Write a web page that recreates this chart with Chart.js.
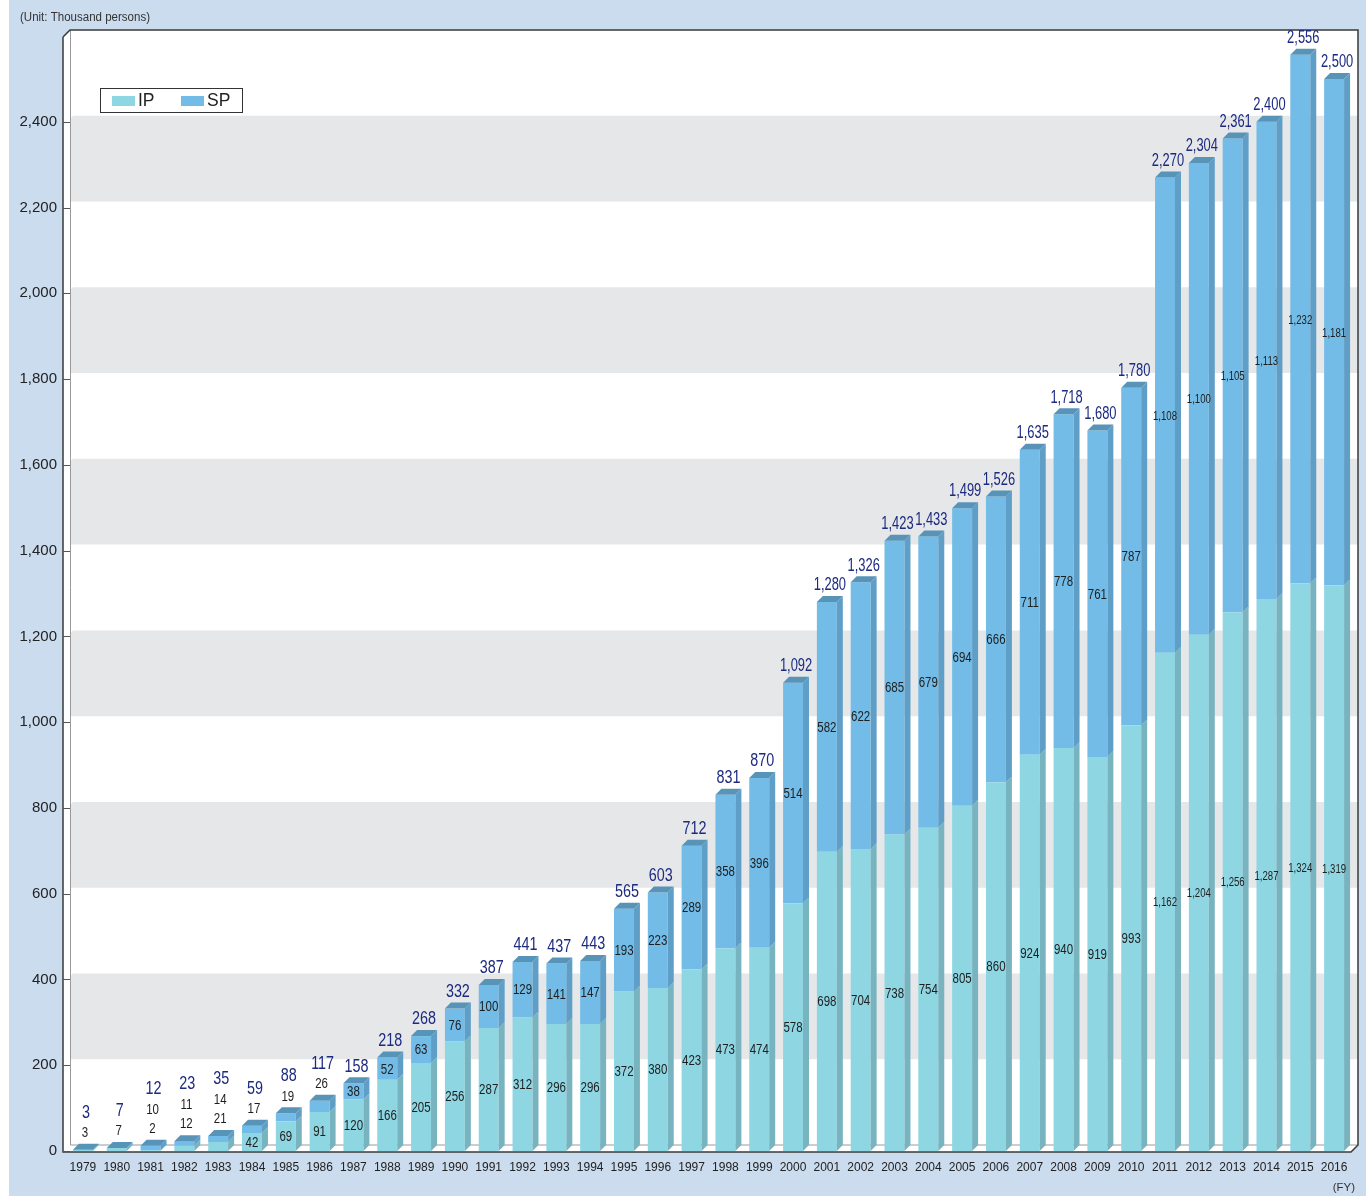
<!DOCTYPE html>
<html><head><meta charset="utf-8">
<script src="https://cdn.jsdelivr.net/npm/chart.js@4.4.1/dist/chart.umd.min.js"></script>
<style>html,body{margin:0;padding:0;background:#fff}#wrap{width:1366px;height:1196px}</style>
</head><body><div id="wrap"><canvas id="c" width="1366" height="1196"></canvas></div>
<script>
// ---- data ----
const years = ['1979','1980','1981','1982','1983','1984','1985','1986','1987','1988','1989','1990','1991','1992','1993','1994','1995','1996','1997','1998','1999','2000','2001','2002','2003','2004','2005','2006','2007','2008','2009','2010','2011','2012','2013','2014','2015','2016'];
const ipValues = [3,7,2,12,21,42,69,91,120,166,205,256,287,312,296,296,372,380,423,473,474,578,698,704,738,754,805,860,924,940,919,993,1162,1204,1256,1287,1324,1319];
const spValues = [0,0,10,11,14,17,19,26,38,52,63,76,100,129,141,147,193,223,289,358,396,514,582,622,685,679,694,666,711,778,761,787,1108,1100,1105,1113,1232,1181];
const totalValues = [3,7,12,23,35,59,88,117,158,218,268,332,387,441,437,443,565,603,712,831,870,1092,1280,1326,1423,1433,1499,1526,1635,1718,1680,1780,2270,2304,2361,2400,2556,2500];
const seriesNames = ['IP','SP'];
const yTickValues = [0,200,400,600,800,1000,1200,1400,1600,1800,2000,2200,2400];
const unitText = '(Unit: Thousand persons)';
const fyText = '(FY)';

// ---- styles ----
const COL = {
  ipFront:'#8fd6e3', ipSide:'#78b4c0', spFront:'#72bce7', spSide:'#5f9fc7', top:'#5894b8',
  panel:'#cbdcef', band:'#e6e7e9', total:'#1c2a80', text:'#1e1e1e'
};
function hasFont(name){
  const c=document.createElement('canvas').getContext('2d');
  c.font='40px monospace'; const a=c.measureText('1979 abcdef,').width;
  c.font='40px "'+name+'", monospace'; const b=c.measureText('1979 abcdef,').width;
  return Math.abs(a-b)>0.5;
}
const narrowOK = hasFont('Liberation Sans Narrow');
const NARROW = narrowOK ? '"Liberation Sans Narrow", "Liberation Sans", Arial, sans-serif' : '"Liberation Sans", Arial, sans-serif';
const NSCALE = narrowOK ? 1 : 0.82;
const REG = '"Liberation Sans", Arial, sans-serif';
const fmt = v => v.toLocaleString('en-US');

function txt(ctx, s, x, y, size, color, family, sx, align){
  ctx.save();
  ctx.font = size+'px '+family;
  ctx.fillStyle = color; ctx.textAlign = align||'center'; ctx.textBaseline='middle';
  ctx.translate(x,y); ctx.scale(sx,1); ctx.fillText(s,0,0);
  ctx.restore();
}

const frame3D = {
  id:'frame3D',
  beforeDraw(chart){
    const ctx=chart.ctx;
    ctx.save();
    ctx.fillStyle='#ffffff'; ctx.fillRect(0,0,chart.width,chart.height);
    ctx.fillStyle=COL.panel; ctx.fillRect(9,0,chart.width-9,chart.height);
    ctx.restore();
  },
  beforeDatasetsDraw(chart){
    const ctx=chart.ctx, a=chart.chartArea, ys=chart.scales.y;
    const fx0=a.left-3, bx0=fx0+7, fy=a.bottom+1, by=fy-7, bxR=a.right+7, topY=30;
    ctx.save();
    ctx.fillStyle='#fff'; ctx.fillRect(bx0,topY,bxR-bx0,by-topY);
    ctx.fillStyle=COL.band;
    for(let v=200; v<2400; v+=400){
      const y1=ys.getPixelForValue(v+200)-6, y2=ys.getPixelForValue(v)-6;
      ctx.beginPath();
      ctx.moveTo(bx0+3,y1); ctx.lineTo(bxR,y1); ctx.lineTo(bxR,y2); ctx.lineTo(bx0,y2); ctx.lineTo(bx0,y1+3); ctx.closePath(); ctx.fill();
    }
    ctx.fillStyle='#fff';
    ctx.beginPath(); ctx.moveTo(fx0,topY+7); ctx.lineTo(bx0,topY); ctx.lineTo(bx0,by); ctx.lineTo(fx0,fy); ctx.closePath(); ctx.fill();
    ctx.beginPath(); ctx.moveTo(fx0,fy); ctx.lineTo(a.right,fy); ctx.lineTo(bxR,by); ctx.lineTo(bx0,by); ctx.closePath(); ctx.fill();
    ctx.strokeStyle='#9a9a9a'; ctx.lineWidth=1;
    ctx.beginPath(); ctx.moveTo(bx0+0.5,topY); ctx.lineTo(bx0+0.5,by); ctx.lineTo(bxR,by); ctx.stroke();
    ctx.strokeStyle='#3a3a3a'; ctx.lineWidth=1.5;
    ctx.beginPath(); ctx.moveTo(fx0,topY+7); ctx.lineTo(fx0,fy); ctx.lineTo(a.right,fy); ctx.lineTo(bxR,by); ctx.lineTo(bxR,topY); ctx.lineTo(bx0,topY); ctx.lineTo(fx0,topY+7); ctx.stroke();
    ctx.strokeStyle='#555'; ctx.lineWidth=1;
    yTickValues.forEach(v=>{const y=Math.round(ys.getPixelForValue(v))+0.5; ctx.beginPath(); ctx.moveTo(fx0,y); ctx.lineTo(bx0,y); ctx.stroke();});
    ctx.restore();
  },
  afterDatasetsDraw(chart){
    const ctx=chart.ctx, d=6;
    const m0=chart.getDatasetMeta(0).data, m1=chart.getDatasetMeta(1).data;
    ctx.save();
    years.forEach((yr,i)=>{
      [[m0[i],COL.ipSide],[m1[i],COL.spSide]].forEach(([el,col])=>{
        const r=el.x+el.width/2, t=el.y, b=el.base;
        if (b-t<=0) return;
        ctx.fillStyle=col;
        ctx.beginPath(); ctx.moveTo(r,b); ctx.lineTo(r,t); ctx.lineTo(r+d,t-d); ctx.lineTo(r+d,b-d); ctx.closePath(); ctx.fill();
      });
      const el=m1[i], l=el.x-el.width/2, r=el.x+el.width/2, t=Math.min(el.y,m0[i].y);
      ctx.fillStyle=COL.top;
      ctx.beginPath(); ctx.moveTo(l,t); ctx.lineTo(r,t); ctx.lineTo(r+d,t-d); ctx.lineTo(l+d,t-d); ctx.closePath(); ctx.fill();
    });
    ctx.restore();
  },
  afterDraw(chart){
    const ctx=chart.ctx;
    const m0=chart.getDatasetMeta(0).data, m1=chart.getDatasetMeta(1).data;
    years.forEach((yr,i)=>{
      const ip=ipValues[i], sp=spValues[i];
      const face=Math.min(m1[i].y,m0[i].y)-6;
      const above=[];
      const inner=(v,el)=>{
        const big=v>=1000;
        txt(ctx, fmt(v), el.x, (el.y+el.base)/2+1, big?13:14, COL.text, NARROW, NSCALE*(big?0.9:1));
      };
      if(ip<30) above.push(ip); else inner(ip,m0[i]);
      if(sp>0){ if(sp<30) above.push(sp); else inner(sp,m1[i]); }
      above.forEach((v,k)=>txt(ctx, fmt(v), m0[i].x+2, face-10.5-19.5*k, 14, COL.text, NARROW, NSCALE));
      const n=above.length;
      const tv=totalValues[i];
      txt(ctx, fmt(tv), m0[i].x+3, face-10.5-19.5*n-(n?1:0), 17.5, COL.total, NARROW, NSCALE*(tv>=1000?0.9:1));
    });
    ctx.save();
    ctx.fillStyle='#fff'; ctx.fillRect(100,88,142,24);
    ctx.strokeStyle='#333'; ctx.lineWidth=1; ctx.strokeRect(100.5,88.5,142,24);
    const ds=chart.data.datasets;
    ctx.fillStyle=ds[0].backgroundColor; ctx.fillRect(112,96,23,10);
    ctx.fillStyle=ds[1].backgroundColor; ctx.fillRect(181,96,23,10);
    ctx.restore();
    txt(ctx, ds[0].label, 138, 101, 17.5, '#222', REG, 1, 'left');
    txt(ctx, ds[1].label, 207, 101, 17.5, '#222', REG, 1, 'left');
    txt(ctx, unitText, 20, 18, 12, '#333', REG, 0.96, 'left');
    txt(ctx, fyText, 1355, 1188, 11.5, '#333', REG, 1, 'right');
  }
};

new Chart(document.getElementById('c'), {
  type:'bar',
  data:{ labels:years, datasets:[
    {label:seriesNames[0], data:ipValues, backgroundColor:COL.ipFront, borderWidth:0, barPercentage:0.59, categoryPercentage:1},
    {label:seriesNames[1], data:spValues, backgroundColor:COL.spFront, borderWidth:0, barPercentage:0.59, categoryPercentage:1}
  ]},
  options:{
    responsive:false, animation:false, devicePixelRatio:1,
    layout:{padding:{top:36,right:15,left:0,bottom:0}},
    plugins:{legend:{display:false}, tooltip:{enabled:false}},
    scales:{
      x:{stacked:true, grid:{display:false}, border:{display:false},
         ticks:{autoSkip:false, maxRotation:0, padding:1, color:'#222', font:{family:NARROW, size:narrowOK?14.5:12}},
         afterFit:s=>{s.height=45;}},
      y:{stacked:true, min:0, max:2600, grid:{display:false, drawTicks:false}, border:{display:false},
         ticks:{stepSize:200, padding:9, color:'#222', font:{family:REG, size:15},
                callback:v=> yTickValues.includes(v) ? fmt(v) : ''},
         afterFit:s=>{s.width=66;}}
    }
  },
  plugins:[frame3D]
});
</script></body></html>
